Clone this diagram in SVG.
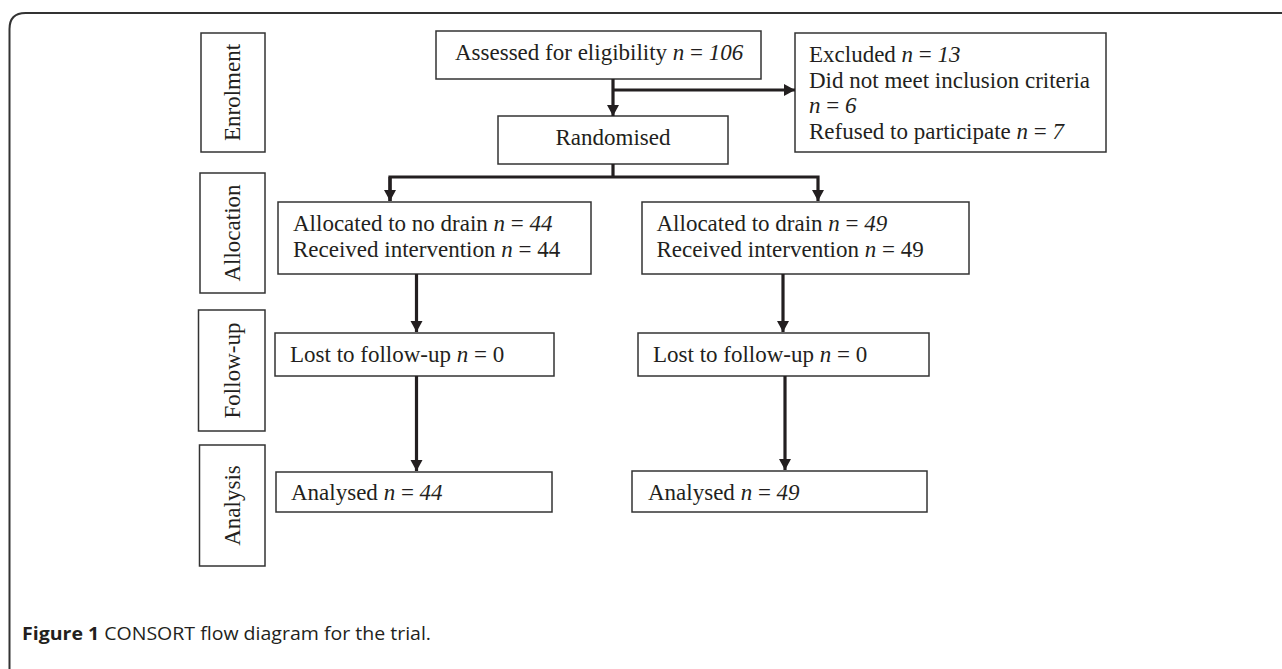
<svg xmlns="http://www.w3.org/2000/svg" width="1282" height="669" viewBox="0 0 1282 669">
<style>
.box{fill:#fff;stroke:#333;stroke-width:1.5}
.t{font-family:"Liberation Serif","Times New Roman",serif;font-size:23px;fill:#231f20}
.i{font-style:italic}
.c{fill:none;stroke:#231f20;stroke-width:3.2}
.cap{font-family:"Open Sans","Liberation Sans",sans-serif;font-size:18px;fill:#231f20}
</style>
<defs>
<marker id="ah" markerUnits="userSpaceOnUse" markerWidth="13" markerHeight="13" refX="11" refY="6" orient="auto">
<path d="M0,0 L11,6 L0,12 z" fill="#231f20"/>
</marker>
</defs>
<rect width="1282" height="669" fill="#fff"/>
<path d="M9.5,669 L9.5,29 Q9.5,13 25.5,13 L1282,13" fill="none" stroke="#333" stroke-width="2"/>

<g id="stage-enrolment"><rect class="box" x="201" y="33" width="64" height="119"/><text class="t" transform="translate(240,92.5) rotate(-90)" text-anchor="middle">Enrolment</text></g>
<g id="stage-allocation"><rect class="box" x="200" y="173" width="65" height="120"/><text class="t" transform="translate(240,233) rotate(-90)" text-anchor="middle">Allocation</text></g>
<g id="stage-followup"><rect class="box" x="198.5" y="310" width="66.5" height="121"/><text class="t" transform="translate(240,370.5) rotate(-90)" text-anchor="middle">Follow-up</text></g>
<g id="stage-analysis"><rect class="box" x="199.5" y="445" width="65.5" height="121"/><text class="t" transform="translate(240,505.5) rotate(-90)" text-anchor="middle">Analysis</text></g>

<g id="assessed"><rect class="box" x="436" y="31" width="325" height="48"/><text class="t" x="455" y="60">Assessed for eligibility <tspan class="i">n</tspan> = <tspan class="i">106</tspan></text></g>
<g id="excluded"><rect class="box" x="795" y="33" width="311" height="119"/>
<text class="t" x="809" y="62">Excluded <tspan class="i">n</tspan> = <tspan class="i">13</tspan></text>
<text class="t" x="809" y="88">Did not meet inclusion criteria</text>
<text class="t" x="809" y="113"><tspan class="i">n</tspan> = <tspan class="i">6</tspan></text>
<text class="t" x="809" y="139">Refused to participate <tspan class="i">n</tspan> = <tspan class="i">7</tspan></text></g>
<g id="randomised"><rect class="box" x="498" y="116" width="230" height="48"/><text class="t" x="613" y="145" text-anchor="middle">Randomised</text></g>

<g id="alloc-nodrain"><rect class="box" x="278" y="202" width="313" height="72"/>
<text class="t" x="293" y="231">Allocated to no drain <tspan class="i">n</tspan> = <tspan class="i">44</tspan></text>
<text class="t" x="293" y="257">Received intervention <tspan class="i">n</tspan> = 44</text></g>
<g id="alloc-drain"><rect class="box" x="642" y="202" width="327" height="72"/>
<text class="t" x="656.5" y="231">Allocated to drain <tspan class="i">n</tspan> = <tspan class="i">49</tspan></text>
<text class="t" x="656.5" y="257">Received intervention <tspan class="i">n</tspan> = 49</text></g>

<g id="lost-nodrain"><rect class="box" x="275" y="333" width="279" height="43"/><text class="t" x="290" y="362">Lost to follow-up <tspan class="i">n</tspan> = 0</text></g>
<g id="lost-drain"><rect class="box" x="638" y="333" width="291" height="43"/><text class="t" x="653" y="362">Lost to follow-up <tspan class="i">n</tspan> = 0</text></g>

<g id="analysed-nodrain"><rect class="box" x="276" y="472" width="276" height="40"/><text class="t" x="291" y="500">Analysed <tspan class="i">n</tspan> = <tspan class="i">44</tspan></text></g>
<g id="analysed-drain"><rect class="box" x="632" y="471" width="295" height="41"/><text class="t" x="648" y="500">Analysed <tspan class="i">n</tspan> = <tspan class="i">49</tspan></text></g>

<g id="connectors">
<path class="c" d="M613,79 L613,116" marker-end="url(#ah)"/>
<path class="c" d="M613,90 L795,90" marker-end="url(#ah)"/>
<path class="c" d="M613,164 L613,177"/>
<path class="c" d="M390,201 L390,177 L818,177 L818,201" marker-end="url(#ah)"/>
<path class="c" d="M390,177 L390,201" marker-end="url(#ah)"/>
<path class="c" d="M416.5,274 L416.5,332" marker-end="url(#ah)"/>
<path class="c" d="M416.5,376 L416.5,471" marker-end="url(#ah)"/>
<path class="c" d="M783,274 L783,332" marker-end="url(#ah)"/>
<path class="c" d="M785,376 L785,470" marker-end="url(#ah)"/>
</g>

<text class="cap" x="22" y="640" textLength="409" lengthAdjust="spacingAndGlyphs"><tspan font-weight="bold">Figure 1</tspan> CONSORT flow diagram for the trial.</text>
</svg>
